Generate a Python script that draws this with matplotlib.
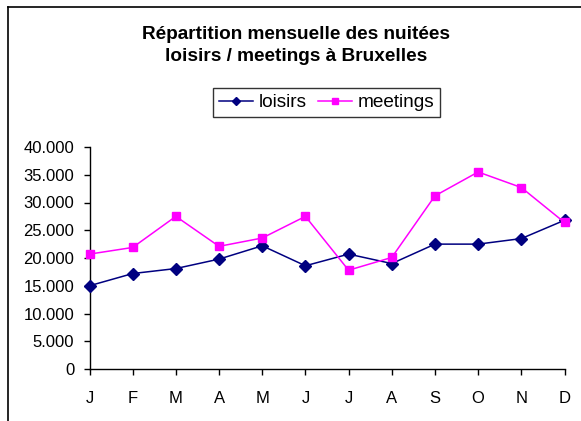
import matplotlib
matplotlib.use("Agg")
import matplotlib.pyplot as plt
from matplotlib.lines import Line2D

months = ["J", "F", "M", "A", "M", "J", "J", "A", "S", "O", "N", "D"]
loisirs = [15000, 17200, 18100, 19800, 22200, 18600, 20700, 19000, 22500, 22500, 23500, 26800]
meetings = [20700, 21900, 27500, 22100, 23600, 27500, 17800, 20100, 31200, 35500, 32700, 26400]
yticks = [0, 5000, 10000, 15000, 20000, 25000, 30000, 35000, 40000]
ytick_labels = ["0", "5.000", "10.000", "15.000", "20.000", "25.000", "30.000", "35.000", "40.000"]
title = "Répartition mensuelle des nuitées\nloisirs / meetings à Bruxelles"

plt.rcParams['font.family'] = ['Liberation Sans', 'DejaVu Sans']

W, H = 581, 421
fig = plt.figure(figsize=(W / 100, H / 100), dpi=100)
fig.patch.set_facecolor("white")

left, right = 89.5 / W, 564.5 / W
bottom, top = (H - 369) / H, (H - 147) / H
ax = fig.add_axes([left, bottom, right - left, top - bottom])

x = list(range(len(months)))
l1, = ax.plot(x, loisirs, color="#000080", marker="D", markersize=6, linewidth=1.1,
              label="loisirs", clip_on=False, zorder=3)
l2, = ax.plot(x, meetings, color="#FF00FF", marker="s", markersize=6, linewidth=1.1,
              label="meetings", clip_on=False, zorder=3)

ax.set_xlim(0, 11)
ax.set_ylim(0, 40000)
ax.set_xticks(x)
ax.set_xticklabels(months)
ax.set_yticks(yticks)
ax.set_yticklabels(ytick_labels)
for s in ["top", "right"]:
    ax.spines[s].set_visible(False)
for s in ["left", "bottom"]:
    ax.spines[s].set_linewidth(1.0)
    ax.spines[s].set_color("black")
ax.tick_params(axis="both", direction="out", length=4, width=1.0, labelsize=12, colors="black")
ax.tick_params(axis="y", pad=7)
ax.tick_params(axis="x", pad=11.5)

fig.text(296 / W, (H - 45.5) / H, title, ha="center", va="center", fontsize=13.7,
         fontweight="bold", linespacing=1.4)

leg = fig.legend(handles=[l1, l2], loc="center", bbox_to_anchor=(326.5 / W, (H - 102.5) / H),
                 ncol=2, fontsize=13.7, frameon=True, fancybox=False, shadow=False,
                 handlelength=1.8, handletextpad=0.3, columnspacing=0.6,
                 borderpad=0.3, borderaxespad=0)
leg.get_frame().set_edgecolor("black")
leg.get_frame().set_linewidth(1.0)
for h in leg.legend_handles:
    h.set_markersize(4.5)

fig.add_artist(Line2D([7.5 / W, 1.0], [(H - 6.5) / H, (H - 6.5) / H], color="black",
                      linewidth=1.2, transform=fig.transFigure))
fig.add_artist(Line2D([7.5 / W, 7.5 / W], [(H - 6.5) / H, 0], color="black",
                      linewidth=1.2, transform=fig.transFigure))

fig.savefig("out.png", dpi=100, facecolor="white")
